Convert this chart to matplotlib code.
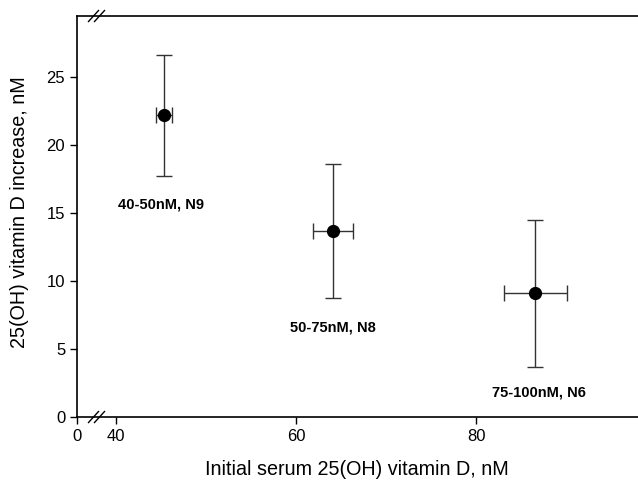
import numpy as np
import matplotlib
matplotlib.use("Agg")
import matplotlib.pyplot as plt

plt.rcParams['font.family'] = ['Liberation Sans', 'DejaVu Sans']

# Data
groups = ["40-50nM, N9", "50-75nM, N8", "75-100nM, N6"]
x_initial = [45.3, 64.1, 86.6]
x_err = [0.9, 2.2, 3.5]
y_increase = [22.2, 13.7, 9.1]
y_err = [4.45, 4.95, 5.4]
label_y = [15.6, 6.6, 1.8]
label_x = [45.0, 64.1, 87.0]
x_ticks = [0, 40, 60, 80]
y_ticks = [0, 5, 10, 15, 20, 25]

BREAK = 40.0
COMP = 39.0 / (40.0 * 9.0)  # compressed segment scale

def fwd(x):
    x = np.asarray(x, dtype=float)
    return np.where(x < BREAK, x * COMP, BREAK * COMP + (x - BREAK))

def inv(u):
    u = np.asarray(u, dtype=float)
    b = BREAK * COMP
    return np.where(u < b, u / COMP, BREAK + (u - b))

fig = plt.figure(figsize=(6.38, 4.84), dpi=100)
ax = fig.add_axes([0.1207, 0.1384, 0.8793, 0.8285])
ax.set_xscale('function', functions=(fwd, inv))
ax.set_xlim(0, 98)
ax.set_ylim(0, 29.5)

ax.errorbar(x_initial, y_increase, xerr=x_err, yerr=y_err, fmt='o', color='black',
            ecolor='#333333', elinewidth=1, capsize=5.5, capthick=1, markersize=8.5)

for gx, gy, g in zip(label_x, label_y, groups):
    ax.text(gx, gy, g, ha='center', va='center', fontsize=10.5, fontweight='bold')

ax.set_xticks(x_ticks)
ax.set_yticks(y_ticks)
ax.tick_params(direction='out', length=5, width=1, labelsize=12, colors='black')
ax.spines['right'].set_visible(False)
for s in ['top', 'bottom', 'left']:
    ax.spines[s].set_linewidth(1.2)

ax.set_xlabel("Initial serum 25(OH) vitamin D, nM", fontsize=14.2)
ax.set_ylabel("25(OH) vitamin D increase, nM", fontsize=14.2)
ax.xaxis.set_label_coords(0.498, -0.108)
ax.yaxis.set_label_coords(-0.086, 0.51)

# break marks (axis-break symbol "//" on bottom and top spines)
fig.canvas.draw()
ax_w = ax.get_position().width * fig.get_figwidth() * fig.dpi
ax_h = ax.get_position().height * fig.get_figheight() * fig.dpi
bx = ax.transAxes.inverted().transform(ax.transData.transform((20, 0)))[0]
for yy in (0, 1):
    for dpx in (-3.0, 3.0):
        cx = bx + dpx / ax_w
        ax.plot([cx - 5 / ax_w, cx + 5 / ax_w], [yy - 5.5 / ax_h, yy + 5.5 / ax_h],
                transform=ax.transAxes, color='black', lw=1, clip_on=False)

fig.savefig("out.png", dpi=100)
